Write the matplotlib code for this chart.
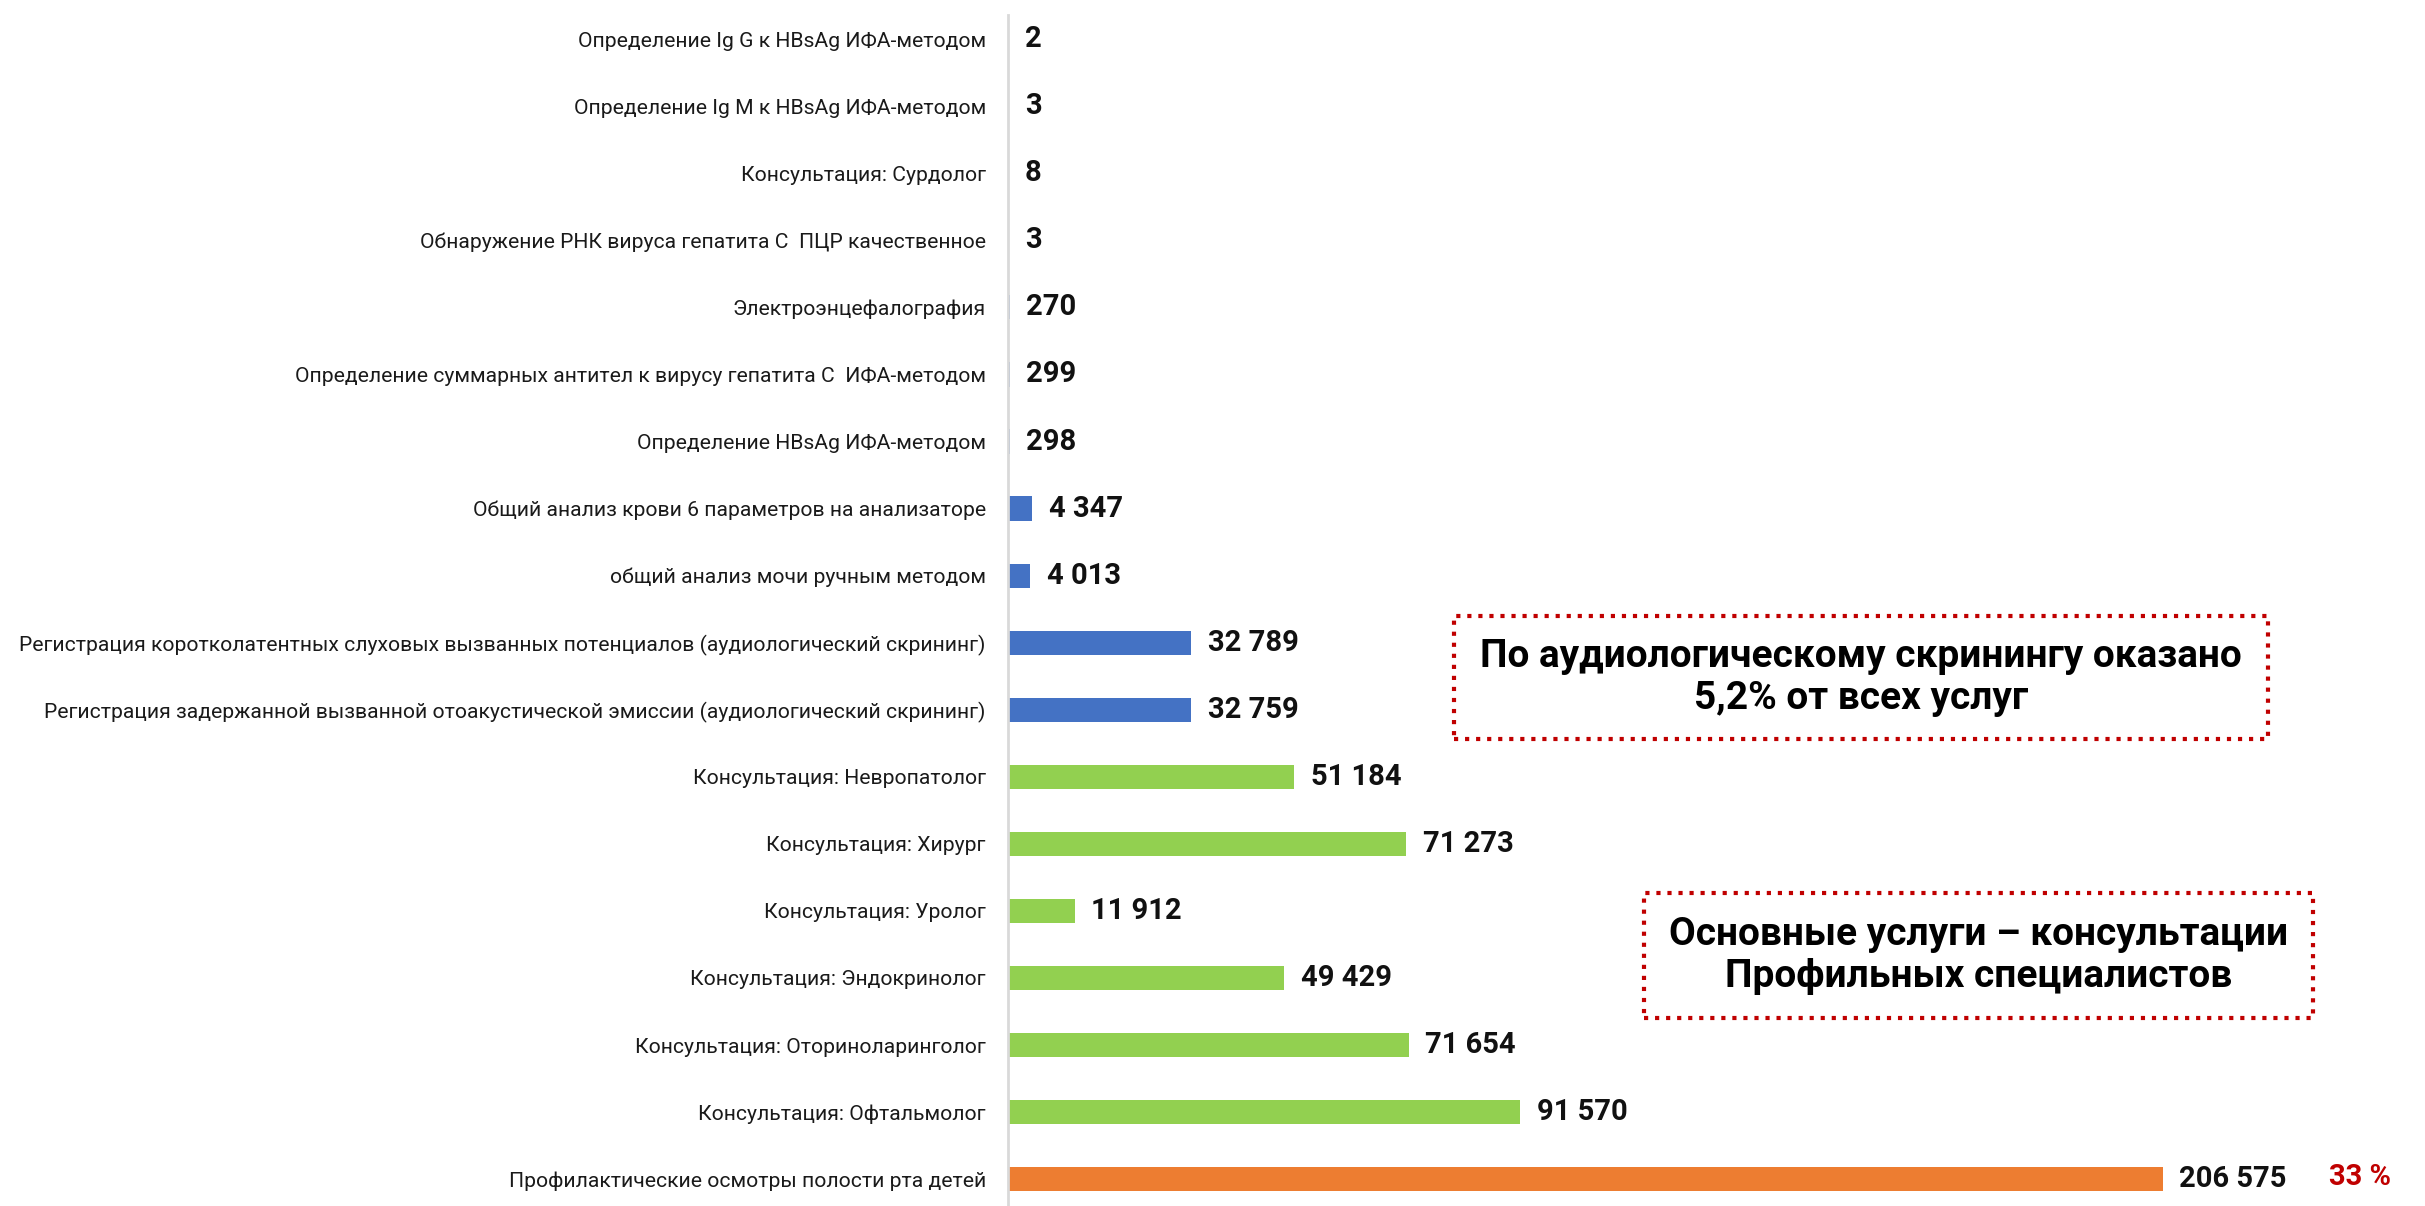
import matplotlib.pyplot as plt
from matplotlib.patches import Rectangle

plt.rcParams['font.family'] = ['Roboto', 'DejaVu Sans']

# Данные (сверху вниз)
categories = [
    'Определение Ig G к HBsAg ИФА-методом',
    'Определение Ig M к HBsAg ИФА-методом',
    'Консультация: Сурдолог',
    'Обнаружение РНК вируса гепатита С  ПЦР качественное',
    'Электроэнцефалография',
    'Определение суммарных антител к вирусу гепатита С  ИФА-методом',
    'Определение HBsAg ИФА-методом',
    'Общий анализ крови 6 параметров на анализаторе',
    'общий анализ мочи ручным методом',
    'Регистрация коротколатентных слуховых вызванных потенциалов (аудиологический скрининг)',
    'Регистрация задержанной вызванной отоакустической эмиссии (аудиологический скрининг)',
    'Консультация: Невропатолог',
    'Консультация: Хирург',
    'Консультация: Уролог',
    'Консультация: Эндокринолог',
    'Консультация: Оториноларинголог',
    'Консультация: Офтальмолог',
    'Профилактические осмотры полости рта детей',
]
values = [2, 3, 8, 3, 270, 299, 298, 4347, 4013, 32789, 32759,
          51184, 71273, 11912, 49429, 71654, 91570, 206575]
groups = ['lab'] * 11 + ['consult'] * 6 + ['dent']
group_colors = {'lab': '#4472C4', 'consult': '#92D050', 'dent': '#ED7D31'}
share_label = '33 %'

box_texts = [
    'По аудиологическому скринингу оказано\n5,2% от всех услуг',
    'Основные услуги – консультации\nПрофильных специалистов',
]

W, H = 2425, 1206
fig = plt.figure(figsize=(W / 100, H / 100), dpi=100)
ax = fig.add_axes([1008 / W, 0, (2400 - 1008) / W, (H - 15) / H])

y = list(range(len(categories)))
colors = [group_colors[g] for g in groups]
ax.barh(y, values, height=0.36, color=colors)

ax.set_xlim(0, 249000)
ax.set_ylim(17.4, -0.36)
ax.set_yticks(y)
ax.set_yticklabels(categories, fontsize=15.2, color='#1a1a1a')
ax.tick_params(axis='y', length=0, pad=16)
ax.set_xticks([])
for s in ['top', 'right', 'bottom']:
    ax.spines[s].set_visible(False)
ax.spines['left'].set_color('#D9D9D9')
ax.spines['left'].set_linewidth(2)

# Подписи значений
for yi, v in zip(y, values):
    ax.annotate(f'{v:,}'.replace(',', ' '), (v, yi), xytext=(12, 0),
                textcoords='offset points', va='center', ha='left',
                fontsize=21, fontweight='bold', color='#111111')

ax.annotate(share_label, (values[-1], y[-1]), xytext=(120, 1.5),
            textcoords='offset points', va='center', ha='left',
            fontsize=21, fontweight='bold', color='#C00000')

# Пояснительные рамки
boxes = [(1454, 616, 2268, 739), (1644, 893, 2313, 1018)]
for (x0, y0, x1, y1), txt in zip(boxes, box_texts):
    fig.patches.append(Rectangle((x0 / W, 1 - y1 / H), (x1 - x0) / W, (y1 - y0) / H,
                                 transform=fig.transFigure, fill=False,
                                 edgecolor='#C00000', linestyle=':', linewidth=3))
    fig.text((x0 + x1) / 2 / W, 1 - (y0 + y1) / 2 / H, txt, ha='center', va='center',
             fontsize=28, fontweight='bold', color='black', linespacing=1.2)

fig.savefig('out.png', dpi=100)
